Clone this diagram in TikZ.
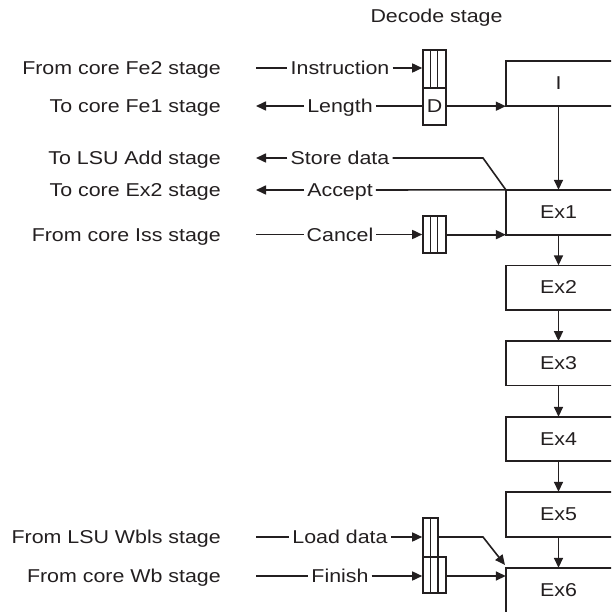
\documentclass[tikz,border=0pt]{standalone}
\usepackage{fontspec}
\setmainfont{Liberation Sans}
\usetikzlibrary{arrows.meta}
\definecolor{ink}{RGB}{35,31,32}
\newcommand{\sx}[1]{\scalebox{1.15}[1]{#1}}
\begin{document}
\begin{tikzpicture}[x=1pt,y=-1pt,
  lbl/.style={font=\fontsize{18.6}{22}\selectfont, text=ink, inner sep=0pt},
  sig/.style={lbl, inner xsep=3pt},
  wire/.style={line width=1.6pt, draw=ink},
  arr/.style={wire, -{Triangle[length=10pt,width=9pt]}},
  stagebox/.style={lbl, minimum width=105pt, minimum height=44pt},
  reg/.style={draw=ink, line width=1.6pt, inner sep=0pt, minimum width=23pt, text=ink,
              font=\fontsize{18.6}{22}\selectfont}
]
\clip (0,0) rectangle (611,612);
\fill[white] (0,0) rectangle (611,612);

% title
\node[lbl, anchor=base] (dec) at (436.5,23) {\sx{Decode stage}};

% pipeline stages
\node[stagebox, minimum height=45pt] (I) at (558.5,83.5) {\sx{I}};
\node[stagebox, minimum height=44.5pt] (ex1) at (558.5,212.25) {\sx{Ex1}};
\node[stagebox] (ex2) at (558.5,287.5) {\sx{Ex2}};
\node[stagebox] (ex3) at (558.5,363.3) {\sx{Ex3}};
\node[stagebox] (ex4) at (558.5,439) {\sx{Ex4}};
\node[stagebox, minimum height=45pt] (ex5) at (558.5,514.5) {\sx{Ex5}};
\node[stagebox, minimum height=45pt] (ex6) at (558.5,590.5) {\sx{Ex6}};
\foreach \n in {I,ex1,ex2,ex3,ex4,ex5,ex6}
  \draw[wire] ([xshift=20pt]\n.north east) -- (\n.north west) -- (\n.south west) -- ([xshift=20pt]\n.south east);
\draw[arr] (I.south) -- (ex1.north);
\draw[arr] (ex1.south) -- (ex2.north);
\draw[arr] (ex2.south) -- (ex3.north);
\draw[arr] (ex3.south) -- (ex4.north);
\draw[arr] (ex4.south) -- (ex5.north);
\draw[arr] (ex5.south) -- (ex6.north);

% registers
\node[reg, minimum height=38pt] (rI) at (434.5,69) {};
\draw[wire] ([xshift=-4pt]rI.north) -- ([xshift=-4pt]rI.south);
\draw[wire] ([xshift=3pt]rI.north) -- ([xshift=3pt]rI.south);
\node[reg, minimum height=37pt] (rD) at (434.5,106.5) {\sx{D}};
\node[reg, minimum height=37pt] (rC) at (434.5,234.5) {};
\draw[wire] ([xshift=-4pt]rC.north) -- ([xshift=-4pt]rC.south);
\draw[wire] ([xshift=3pt]rC.north) -- ([xshift=3pt]rC.south);
\node[reg, minimum width=15pt, minimum height=75pt] (rL) at (430.5,555.5) {};
\node[reg, minimum height=36pt] (rF) at (434.5,575) {};
\draw[wire] (rL.north) -- (rL.south);

% left labels
\node[lbl, anchor=base east] (Lfe2) at (221,74.5) {\sx{From core Fe2 stage}};
\node[lbl, anchor=base east] (Lfe1) at (221,112.5) {\sx{To core Fe1 stage}};
\node[lbl, anchor=base east] (Llsu) at (221,164.5) {\sx{To LSU Add stage}};
\node[lbl, anchor=base east] (Lex2) at (221,196.5) {\sx{To core Ex2 stage}};
\node[lbl, anchor=base east] (Liss) at (221,241) {\sx{From core Iss stage}};
\node[lbl, anchor=base east] (Lwbl) at (221,543.5) {\sx{From LSU Wbls stage}};
\node[lbl, anchor=base east] (Lwb)  at (221,582.5) {\sx{From core Wb stage}};

% signal end points
\coordinate (lIns) at (256,68);
\coordinate (lLen) at (256,106);
\coordinate (lSt)  at (256,158);
\coordinate (lAcc) at (256,190);
\coordinate (lCan) at (256,234.5);
\coordinate (lLd)  at (256,537);
\coordinate (lFin) at (256,576);
\coordinate (kSt)  at (483,158);
\coordinate (kLd)  at (483,537);
\coordinate (tipLd) at (505,565);

% signal names
\node[sig, anchor=base] (tIns) at (340,74.5) {\sx{Instruction}};
\node[sig, anchor=base] (tLen) at (340,112.5) {\sx{Length}};
\node[sig, anchor=base] (tSt)  at (340,164.5) {\sx{Store data}};
\node[sig, anchor=base] (tAcc) at (340,196.5) {\sx{Accept}};
\node[sig, anchor=base] (tCan) at (340,241) {\sx{Cancel}};
\node[sig, anchor=base] (tLd)  at (340,543.5) {\sx{Load data}};
\node[sig, anchor=base] (tFin) at (340,582.5) {\sx{Finish}};

% Instruction
\draw[wire] (lIns) -- (tIns.west |- lIns);
\draw[arr] (tIns.east |- lIns) -- (rI.west |- lIns);
% Length
\draw[arr] (tLen.west |- lLen) -- (lLen);
\draw[wire] (tLen.east |- lLen) -- (rD.west |- lLen);
\draw[arr] (rD.east |- I.south west) -- (I.south west);
% Store data
\draw[arr] (tSt.west |- lSt) -- (lSt);
\draw[wire] (tSt.east |- lSt) -- (kSt) -- (ex1.north west);
% Accept
\draw[arr] (tAcc.west |- lAcc) -- (lAcc);
\draw[wire] (tAcc.east |- lAcc) -- (ex1.north west);
% Cancel
\draw[wire] (lCan) -- (tCan.west |- lCan);
\draw[arr] (tCan.east |- lCan) -- (rC.west |- lCan);
\draw[arr] (rC.east |- ex1.south west) -- (ex1.south west);
% Load data
\draw[wire] (lLd) -- (tLd.west |- lLd);
\draw[arr] (tLd.east |- lLd) -- (rL.west |- lLd);
\draw[arr] (rL.east |- lLd) -- (kLd) -- (tipLd);
% Finish
\draw[wire] (lFin) -- (tFin.west |- lFin);
\draw[arr] (tFin.east |- lFin) -- (rF.west |- lFin);
\draw[arr] (rF.east |- lFin) -- (ex6.west |- lFin);
\end{tikzpicture}
\end{document}
